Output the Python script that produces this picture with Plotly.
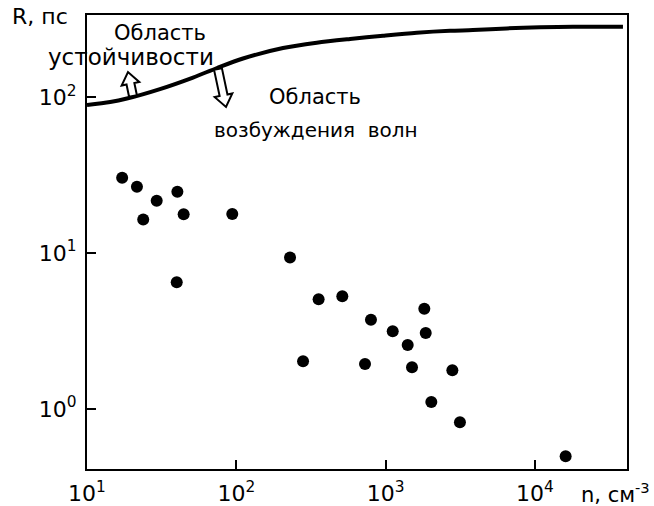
import math
import plotly.graph_objects as go

# ---- data ----
n_points = [17.2, 21.6, 23.8, 29.3, 40.3, 39.9, 44.4, 94, 229, 280, 356, 513, 798, 728,
            1116, 1406, 1503, 1817, 1857, 2800, 2024, 3148, 16070]
R_points = [30.4, 26.6, 16.4, 21.6, 24.7, 6.49, 17.7, 17.8, 9.35, 2.02, 5.05, 5.28, 3.73, 1.94,
            3.15, 2.57, 1.85, 4.39, 3.07, 1.77, 1.11, 0.822, 0.497]

n_curve = [10, 14.3, 18.5, 30.8, 51.3, 74.3, 110.9, 205.6, 345.9, 578, 961, 1616, 2698, 3846,
           6471, 10820, 17990, 38900]
R_curve = [88.9, 92.9, 97.8, 112.5, 133.4, 153.5, 176.6, 206.1, 222.8, 235.5, 247.2, 258.4, 266,
           268.7, 275.5, 279.7, 282.5, 282.5]

x_tickvals = [10, 100, 1000, 10000]
x_ticktext = ["10<sup>1</sup>", "10<sup>2</sup>", "10<sup>3</sup>", "10<sup>4</sup>"]
y_tickvals = [1, 10, 100]
y_ticktext = ["10<sup>0</sup>", "10<sup>1</sup>", "10<sup>2</sup>"]

# ---- layout geometry (screen pixels, body margin removed) ----
W, H = 654, 506
PL, PR, PT, PB = 87, 627, 15, 469          # plot box
L, T, R, B = PL, PT, W - PR, H - PB
PW, PH = PR - PL, PB - PT

FONT = "DejaVu Sans"


def px2paper(px, py):
    return (px - PL) / PW, (PB - py) / PH


def hollow_arrow(base, tip, shaft_w=8, head_w=18, head_len=12):
    bx, by = base
    tx, ty = tip
    dx, dy = tx - bx, ty - by
    ln = math.hypot(dx, dy)
    ux, uy = dx / ln, dy / ln
    nx, ny = -uy, ux
    neck = (tx - ux * head_len, ty - uy * head_len)
    pts = [
        (bx + nx * shaft_w / 2, by + ny * shaft_w / 2),
        (neck[0] + nx * shaft_w / 2, neck[1] + ny * shaft_w / 2),
        (neck[0] + nx * head_w / 2, neck[1] + ny * head_w / 2),
        (tx, ty),
        (neck[0] - nx * head_w / 2, neck[1] - ny * head_w / 2),
        (neck[0] - nx * shaft_w / 2, neck[1] - ny * shaft_w / 2),
        (bx - nx * shaft_w / 2, by - ny * shaft_w / 2),
    ]
    pp = [px2paper(*p) for p in pts]
    return "M " + " L ".join(f"{x:.4f},{y:.4f}" for x, y in pp) + " Z"


fig = go.Figure()
fig.add_trace(go.Scatter(x=n_curve, y=R_curve, mode="lines",
                         line=dict(color="black", width=4, shape="spline", smoothing=0.8),
                         hoverinfo="skip", showlegend=False))
fig.add_trace(go.Scatter(x=n_points, y=R_points, mode="markers",
                         marker=dict(color="black", size=12), showlegend=False))

axis_common = dict(type="log", showgrid=False, zeroline=False, automargin=False,
                   showline=True, linecolor="black", linewidth=2, mirror=True,
                   ticks="inside", ticklen=9, tickwidth=2, tickcolor="black",
                   tickfont=dict(family=FONT, size=22, color="black"), ticklabelstandoff=4)

fig.update_layout(
    width=W, height=H,
    margin=dict(l=L, r=R, t=T, b=B, pad=0, autoexpand=False),
    paper_bgcolor="white", plot_bgcolor="white",
    font=dict(family=FONT, color="black", size=20),
    showlegend=False,
    xaxis=dict(range=[1, 4.617], tickvals=x_tickvals, ticktext=x_ticktext, **axis_common),
    yaxis=dict(range=[-0.385, 2.526], tickvals=y_tickvals, ticktext=y_ticktext, **axis_common),
)

texts = [
    ("Область", 160, 33, 21),
    ("устойчивости", 131, 57, 23),
    ("Область", 315, 97, 21),
    ("возбуждения  волн", 316, 130, 20),
    ("R, пс", 40, 16, 22),
    ("n, см<sup>-3</sup>", 615, 493, 21),
]
for t, px, py, fs in texts:
    xp, yp = px2paper(px, py)
    fig.add_annotation(x=xp, y=yp, xref="paper", yref="paper", text=t, showarrow=False,
                       xanchor="center", yanchor="middle",
                       font=dict(family=FONT, size=fs, color="black"))

for base, tip in [((133, 96), (128, 72)), ((218, 69), (226, 107))]:
    fig.add_shape(type="path", path=hollow_arrow(base, tip), xref="paper", yref="paper",
                  line=dict(color="black", width=2), fillcolor="white", layer="above")

fig.write_html("out.html", config={"displayModeBar": False},
               post_script="document.body.style.margin='0';")
